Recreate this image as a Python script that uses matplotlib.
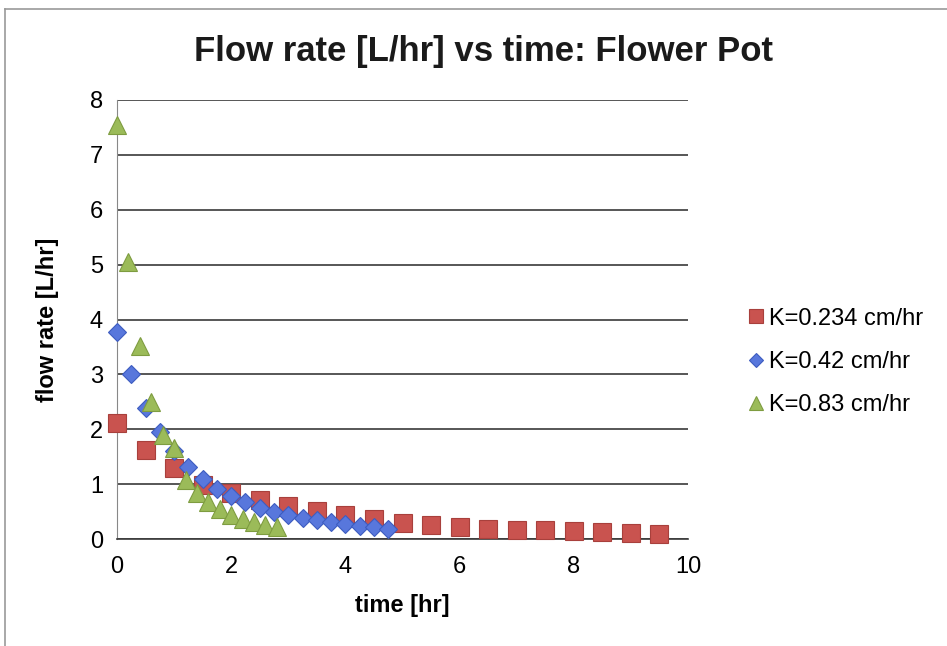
import matplotlib
matplotlib.use("Agg")
import matplotlib.pyplot as plt
from matplotlib.lines import Line2D

plt.rcParams['font.family'] = ['Liberation Sans', 'DejaVu Sans']

# Data
t_red = [0, 0.5, 1.0, 1.5, 2.0, 2.5, 3.0, 3.5, 4.0, 4.5, 5.0, 5.5, 6.0, 6.5, 7.0, 7.5, 8.0, 8.5, 9.0, 9.5]
q_red = [2.12, 1.62, 1.3, 0.98, 0.84, 0.71, 0.6, 0.51, 0.44, 0.36, 0.29, 0.25, 0.22, 0.19, 0.17, 0.155, 0.14, 0.125, 0.11, 0.1]

t_blue = [0, 0.25, 0.5, 0.75, 1.0, 1.25, 1.5, 1.75, 2.0, 2.25, 2.5, 2.75, 3.0, 3.25, 3.5, 3.75, 4.0, 4.25, 4.5, 4.75]
q_blue = [3.78, 3.0, 2.38, 1.95, 1.6, 1.31, 1.09, 0.92, 0.78, 0.68, 0.57, 0.5, 0.44, 0.39, 0.35, 0.31, 0.27, 0.24, 0.21, 0.19]

t_green = [0, 0.2, 0.4, 0.6, 0.8, 1.0, 1.2, 1.4, 1.6, 1.8, 2.0, 2.2, 2.4, 2.6, 2.8]
q_green = [7.55, 5.05, 3.52, 2.5, 1.9, 1.66, 1.07, 0.83, 0.68, 0.54, 0.44, 0.37, 0.31, 0.25, 0.21]

labels = ["K=0.234 cm/hr", "K=0.42 cm/hr", "K=0.83 cm/hr"]
title = "Flow rate [L/hr] vs time: Flower Pot"
xlabel = "time [hr]"
ylabel = "flow rate [L/hr]"

fig = plt.figure(figsize=(9.47, 6.46), dpi=100)
# outer chart border (top and left edges visible)
fig.lines.append(Line2D([5/947, 1.0], [1 - 9/646, 1 - 9/646], transform=fig.transFigure,
                        color='#999999', linewidth=1.2))
fig.lines.append(Line2D([5/947, 5/947], [0.0, 1 - 9/646], transform=fig.transFigure,
                        color='#999999', linewidth=1.2))

ax = fig.add_axes([117/947, 1 - 539/646, (688 - 117)/947, (539 - 100)/646])

ax.plot(t_red, q_red, linestyle='none', marker='s', markersize=12.5,
        markerfacecolor='#c9534f', markeredgecolor='#a8403c', markeredgewidth=0.8,
        label=labels[0], zorder=3, clip_on=False)
ax.plot(t_blue, q_blue, linestyle='none', marker='D', markersize=9.5,
        markerfacecolor='#5877dc', markeredgecolor='#3d5cc0', markeredgewidth=0.8,
        label=labels[1], zorder=4, clip_on=False)
ax.plot(t_green, q_green, linestyle='none', marker='^', markersize=12.5,
        markerfacecolor='#9bbb59', markeredgecolor='#7e9c40', markeredgewidth=0.8,
        label=labels[2], zorder=5, clip_on=False)

ax.set_xlim(0, 10)
ax.set_ylim(0, 8)
ax.set_xticks(range(0, 11, 2))
ax.set_yticks(range(0, 9))
ax.yaxis.grid(True, color='#3a3a3a', linewidth=1.2)
ax.set_axisbelow(True)
for s in ['top', 'right']:
    ax.spines[s].set_visible(False)
ax.spines['left'].set_color('#888888')
ax.spines['bottom'].set_color('#3a3a3a')
ax.spines['bottom'].set_linewidth(1.2)
ax.tick_params(length=0, labelsize=17, pad=10)
ax.tick_params(axis='x', pad=12)

ax.set_xlabel(xlabel, fontsize=17, fontweight='bold', labelpad=12)
ax.set_ylabel(ylabel, fontsize=17, fontweight='bold', labelpad=22)
fig.text(483/947, 1 - 52/646, title, fontsize=25, fontweight='bold',
         ha='center', va='center', color='#1a1a1a')

leg = fig.legend(loc='center left', bbox_to_anchor=(0.763, 1 - 362/646),
                 fontsize=17, frameon=False, handletextpad=0.05,
                 labelspacing=0.9, handlelength=1.0, markerscale=0.8)

fig.savefig("out.png", dpi=100)
